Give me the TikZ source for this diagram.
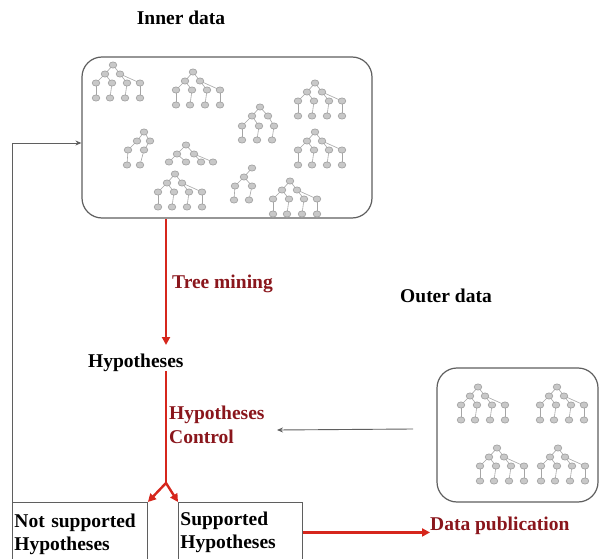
\documentclass[tikz,border=0pt]{standalone}
\usepackage{fontspec}
\setmainfont{Liberation Serif}
\usetikzlibrary{arrows.meta}
\definecolor{arrred}{RGB}{214,38,28}
\definecolor{txtred}{RGB}{138,22,28}
\definecolor{boxgray}{RGB}{95,95,95}
\definecolor{treeline}{RGB}{165,165,165}
\definecolor{treefill}{RGB}{200,200,200}
\newcommand\tnd[2]{\fill[treefill,draw=treeline,line width=0.7pt] (#1,#2) ellipse [x radius=3.8pt, y radius=3.1pt];}
\newcommand\ted[4]{\draw[treeline,line width=0.6pt] (#1,#2) -- (#3,#4);}
\tikzset{
  pics/fulltree/.style={code={
    \ted{0}{0}{-8}{9}\ted{0}{0}{7}{9}
    \ted{-8}{9}{-17}{18}\ted{-8}{9}{-1}{18}\ted{7}{9}{14}{18}\ted{7}{9}{27}{18}
    \ted{-17}{18}{-17}{33}\ted{-1}{18}{-3}{33}\ted{14}{18}{12}{33}\ted{27}{18}{27}{33}
    \tnd{0}{0}\tnd{-8}{9}\tnd{7}{9}
    \tnd{-17}{18}\tnd{-1}{18}\tnd{14}{18}\tnd{27}{18}
    \tnd{-17}{33}\tnd{-3}{33}\tnd{12}{33}\tnd{27}{33}}},
  pics/threetree/.style={code={
    \ted{0}{0}{-8}{9}\ted{0}{0}{8}{9}
    \ted{-8}{9}{-18}{19}\ted{-8}{9}{-1}{19}\ted{8}{9}{14}{19}
    \ted{-18}{19}{-18}{33}\ted{-1}{19}{-3}{33}\ted{14}{19}{12}{33}
    \tnd{0}{0}\tnd{-8}{9}\tnd{8}{9}
    \tnd{-18}{19}\tnd{-1}{19}\tnd{14}{19}
    \tnd{-18}{33}\tnd{-3}{33}\tnd{12}{33}}},
  pics/smalltree/.style={code={
    \ted{0}{0}{-7}{9}\ted{0}{0}{6}{9}
    \ted{-7}{9}{-16}{18}\ted{6}{9}{0}{18}
    \ted{-16}{18}{-17}{33}\ted{0}{18}{-4}{33}
    \tnd{0}{0}\tnd{-7}{9}\tnd{6}{9}
    \tnd{-16}{18}\tnd{0}{18}
    \tnd{-17}{33}\tnd{-4}{33}}},
  pics/flattree/.style={code={
    \ted{0}{0}{-9}{9}\ted{0}{0}{8}{9}
    \ted{-9}{9}{-17}{17}\ted{-9}{9}{0}{17}\ted{8}{9}{15}{17}\ted{8}{9}{27}{17}
    \tnd{0}{0}\tnd{-9}{9}\tnd{8}{9}
    \tnd{-17}{17}\tnd{0}{17}\tnd{15}{17}\tnd{27}{17}}},
  pics/tinytree/.style={code={
    \ted{0}{0}{-8}{9}\ted{-8}{9}{-17}{18}\ted{-8}{9}{0}{18}
    \ted{-17}{18}{-18}{32}\ted{0}{18}{-3}{32}
    \tnd{0}{0}\tnd{-8}{9}
    \tnd{-17}{18}\tnd{0}{18}
    \tnd{-18}{32}\tnd{-3}{32}}},
  databox/.style={draw=boxgray,line width=1.2pt,rounded corners=20pt,inner sep=0pt},
  plainbox/.style={draw=boxgray,line width=0.9pt,inner ysep=0pt,inner xsep=2pt,align=left},
  redarr/.style={draw=arrred,line width=2.4pt,-{Triangle[length=8pt,width=8pt]}},
  redline/.style={draw=arrred,line width=2.4pt},
  grayarr/.style={draw=boxgray,line width=0.9pt,-{Stealth[length=6pt,width=5pt]}},
}
\begin{document}
\begin{tikzpicture}[x=1pt,y=-1pt,font=\fontsize{19.5}{23.5}\selectfont\bfseries]
\fill[white] (0,0) rectangle (600,559);
\useasboundingbox (0,0) rectangle (600,559);
% data boxes
\node[databox,minimum width=290pt,minimum height=161pt] (inner) at (227,137.5) {};
\node[databox,minimum width=161pt,minimum height=134pt] (outer) at (517.5,435) {};
% trees
\pic at (113,65) {fulltree};
\pic at (193,72) {fulltree};
\pic at (315,83) {fulltree};
\pic at (315,132) {fulltree};
\pic at (175,174) {fulltree};
\pic at (290,181) {fulltree};
\pic at (260,107) {threetree};
\pic at (144,132) {smalltree};
\pic at (186,145) {flattree};
\pic at (252,168) {tinytree};
\pic at (478,387) {fulltree};
\pic at (557,387) {fulltree};
\pic at (497,448) {fulltree};
\pic at (558,448) {fulltree};
% labels
\node[anchor=base,inner sep=0pt] (innerlbl) at (181,25) {Inner data};
\node[anchor=base,inner sep=0pt] (outerlbl) at (446,302) {Outer data};
\node[anchor=base west,inner sep=0pt,text=txtred] (tm) at (172,288) {Tree mining};
\node[anchor=base west,inner sep=0pt] (hyp) at (88,367) {Hypotheses};
\node[anchor=north west,inner sep=0pt,align=left,text=txtred] (hc) at (169,406) {Hypotheses\\Control};
\node[anchor=base west,inner sep=0pt,text=txtred] (pub) at (430,530) {Data publication};
% result boxes
\node[plainbox,anchor=north west,text width=131pt,minimum height=64pt] (ns) at (12,502) {Not supported\\Hypotheses};
\node[plainbox,anchor=north west,text width=120pt,minimum height=60pt] (sup) at (178,502) {Supported\\Hypotheses};
% connectors
\coordinate (c1) at (166,0);
\coordinate (c2) at (166,345);
\coordinate (fork) at (166,483);
\coordinate (fb) at (12,143);
\coordinate (oa) at (413,429);
\coordinate (ob) at (277,430);
\draw[redarr] (inner.south -| c1) -- (c2);
\draw[redline] (hyp.south -| c1) -- (fork);
\draw[redarr] (fork) -- (ns.north east);
\draw[redarr] (fork) -- (sup.north west);
\draw[redarr] (sup.east) -- (sup.east -| pub.west);
\draw[grayarr] (ns.north west) -- (fb) -- (fb -| inner.west);
\draw[grayarr] (oa) -- (ob);
\end{tikzpicture}
\end{document}
